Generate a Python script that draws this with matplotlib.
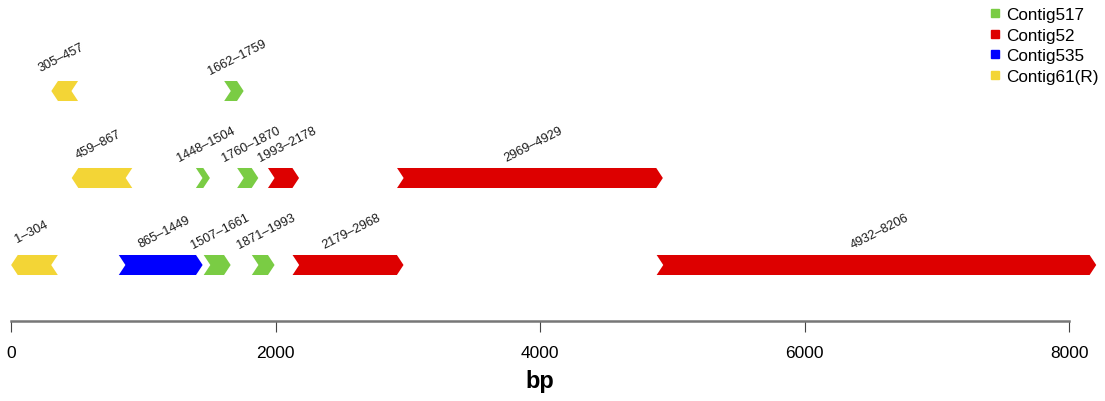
import matplotlib.pyplot as plt
from matplotlib.patches import Polygon
from matplotlib.lines import Line2D

plt.rcParams['font.family'] = ['Liberation Sans', 'DejaVu Sans']

# features: start, end, contig, row (0 = bottom), strand
starts = [305, 1662, 459, 1448, 1760, 1993, 2969, 1, 865, 1507, 1871, 2179, 4932]
ends = [457, 1759, 867, 1504, 1870, 2178, 4929, 304, 1449, 1661, 1993, 2968, 8206]
contigs = ["Contig61(R)", "Contig517", "Contig61(R)", "Contig517", "Contig517", "Contig52", "Contig52",
           "Contig61(R)", "Contig535", "Contig517", "Contig517", "Contig52", "Contig52"]
rows = [2, 2, 1, 1, 1, 1, 1, 0, 0, 0, 0, 0, 0]
strands = [-1, 1, -1, 1, 1, 1, 1, -1, 1, 1, 1, 1, 1]

legend_names = ["Contig517", "Contig52", "Contig535", "Contig61(R)"]
colors = {"Contig517": "#7acc44", "Contig52": "#dd0000", "Contig535": "#0000ff", "Contig61(R)": "#f3d536"}

fig = plt.figure(figsize=(11.05, 4.02), dpi=100)
ax = fig.add_axes([0, 0, 1, 1])

px = 1058 / 8000.0
ax.set_xlim(-11 / px, (1105 - 11) / px)
ax.set_ylim(-(402 - 266) / 87.0, 266 / 87.0)

h = 50       # arrow head length in bp
hw = 0.115   # half height of an arrow

for s, e, c, r, st in zip(starts, ends, contigs, rows, strands):
    if st > 0:
        pts = [(s - h, r + hw), (e - h, r + hw), (e, r), (e - h, r - hw), (s - h, r - hw), (s, r)]
    else:
        pts = [(s, r), (s + h, r + hw), (e + h, r + hw), (e, r), (e + h, r - hw), (s + h, r - hw)]
    ax.add_patch(Polygon(pts, closed=True, facecolor=colors[c], edgecolor='none'))
    ax.text((s + e) / 2.0, r + 0.39, f"{s}\u2013{e}", rotation=27, ha='center', va='center',
            fontsize=9.2, color='#1a1a1a', rotation_mode='anchor')

# axis
for side in ['top', 'right', 'left']:
    ax.spines[side].set_visible(False)
ax.spines['bottom'].set_position(('data', -56 / 87.0))
ax.spines['bottom'].set_bounds(0, 8000)
ax.spines['bottom'].set_color('#777777')
ax.spines['bottom'].set_linewidth(1.8)
ax.set_yticks([])
ax.set_xticks([0, 2000, 4000, 6000, 8000])
ax.tick_params(axis='x', direction='out', length=8, width=0.8, color='#444444', pad=9, labelsize=12.5)
ax.text(4000, -116 / 87.0, "bp", ha='center', va='center', fontsize=17, fontweight='bold')

handles = [Line2D([], [], marker='s', linestyle='none', markersize=6, color=colors[n]) for n in legend_names]
ax.legend(handles, legend_names, loc='upper right', bbox_to_anchor=(1.0055, 1.009), frameon=False,
          fontsize=12.3, handletextpad=0.2, labelspacing=0.32, handlelength=1.0, borderaxespad=0.3)

fig.savefig("out.png", dpi=100)
